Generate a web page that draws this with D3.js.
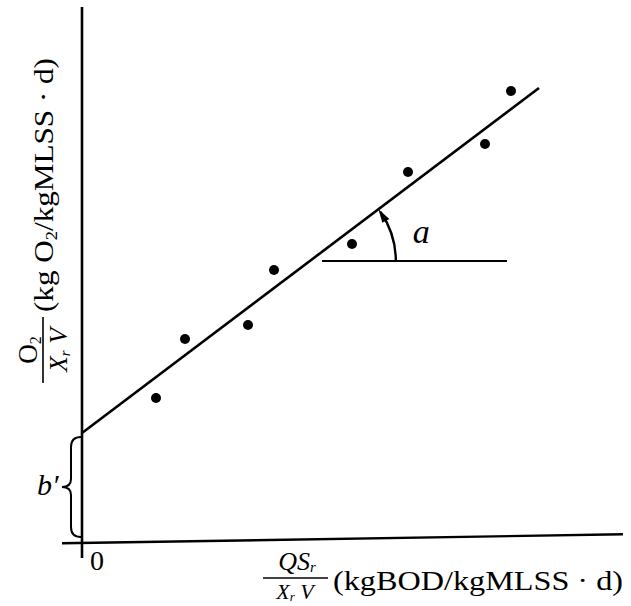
<!DOCTYPE html>
<html>
<head>
<meta charset="utf-8">
<script src="https://cdn.jsdelivr.net/npm/d3@7"></script>
<style>
  html, body { margin: 0; padding: 0; background: #fff; }
  #canvas { width: 631px; height: 606px; }
  text { font-family: "Liberation Serif", "Times New Roman", "DejaVu Serif", serif; fill: #000; }
</style>
</head>
<body>
<div id="canvas" class="canvas"></div>
<script>
// data (arbitrary units, origin at axis crossing)
var ptX = [1.48, 2.06, 3.32, 3.84, 5.40, 6.52, 8.06, 8.58];
var ptY = [2.90, 4.08, 4.36, 5.46, 5.98, 7.42, 7.98, 9.04];
var fitX = [0, 9.14];
var fitY = [2.2, 9.1];          // intercept b' = 2.2
var refY = 5.64;                // horizontal reference line for angle a
var refX = [4.8, 8.5];

var W = 631, H = 606;

var svg = d3.select('.canvas')
    .append('svg')
    .attr('width', W)
    .attr('height', H);

var x = d3.scaleLinear().domain([0, 10]).range([82, 582]);
var y = d3.scaleLinear().domain([0, 10]).range([543, 43]);

// x axis (scan is tilted a touch)
svg.append('line')
    .attr('x1', x(-0.4)).attr('y1', y(0))
    .attr('x2', x(10.82)).attr('y2', y(0))
    .attr('transform', 'rotate(-0.92,' + x(0) + ',' + y(0) + ')')
    .style('stroke', '#000').style('stroke-width', 2.4);

// y axis
svg.append('line')
    .attr('x1', x(0)).attr('y1', y(10.72))
    .attr('x2', x(0)).attr('y2', y(-0.3))
    .style('stroke', '#000').style('stroke-width', 2.6);

// fitted line
var line = d3.line().x(function(d){ return x(d[0]); }).y(function(d){ return y(d[1]); });
svg.append('path')
    .datum(fitX.map(function(v, i){ return [v, fitY[i]]; }))
    .attr('d', line)
    .style('fill', 'none').style('stroke', '#000').style('stroke-width', 2.6);

// points
svg.selectAll('.pt')
    .data(ptX.map(function(v, i){ return [v, ptY[i]]; }))
    .enter().append('circle').attr('class', 'pt')
    .attr('cx', function(d){ return x(d[0]); })
    .attr('cy', function(d){ return y(d[1]); })
    .attr('r', 5)
    .style('fill', '#000');

// reference horizontal line
svg.append('line')
    .attr('x1', x(refX[0])).attr('y1', y(refY))
    .attr('x2', x(refX[1])).attr('y2', y(refY))
    .style('stroke', '#000').style('stroke-width', 2.2);

// angle arc a
var slope = (fitY[1] - fitY[0]) / (fitX[1] - fitX[0]);
var cx0 = x((refY - fitY[0]) / slope), cy0 = y(refY);
var ang = Math.atan(slope * (y(0) - y(1)) / (x(1) - x(0)));
var R = 86;
var arc = d3.arc()({innerRadius: R, outerRadius: R, startAngle: Math.PI / 2 - ang + 0.04, endAngle: Math.PI / 2});
svg.append('path')
    .attr('d', arc)
    .attr('transform', 'translate(' + cx0 + ',' + cy0 + ')')
    .style('fill', 'none').style('stroke', '#000').style('stroke-width', 2.4);
// arrow head at the top of the arc, pointing to the fitted line
var tipA = -ang, baseA = -ang + 0.16;
var tip = [cx0 + R * Math.cos(tipA), cy0 + R * Math.sin(tipA)];
var b1 = [cx0 + (R - 4) * Math.cos(baseA), cy0 + (R - 4) * Math.sin(baseA)];
var b2 = [cx0 + (R + 4) * Math.cos(baseA), cy0 + (R + 4) * Math.sin(baseA)];
svg.append('path')
    .attr('d', 'M' + tip + 'L' + b1 + 'L' + b2 + 'Z')
    .style('fill', '#000');

svg.append('text')
    .attr('x', cx0 + 103).attr('y', cy0 - 18)
    .style('font-size', '34px').style('font-style', 'italic')
    .text('a');

// brace for b'
var bt = y(fitY[0]) + 4, bb = y(0) - 6, bm = (bt + bb) / 2, bx = x(0);
svg.append('path')
    .attr('d', 'M' + (bx - 1) + ',' + bt +
        ' Q' + (bx - 11) + ',' + bt + ' ' + (bx - 11) + ',' + (bt + 10) +
        ' L' + (bx - 11) + ',' + (bm - 8) +
        ' Q' + (bx - 11) + ',' + bm + ' ' + (bx - 20) + ',' + bm +
        ' Q' + (bx - 11) + ',' + bm + ' ' + (bx - 11) + ',' + (bm + 8) +
        ' L' + (bx - 11) + ',' + (bb - 10) +
        ' Q' + (bx - 11) + ',' + bb + ' ' + (bx - 1) + ',' + bb)
    .style('fill', 'none').style('stroke', '#000').style('stroke-width', 2);

svg.append('text')
    .attr('x', 37).attr('y', 495)
    .style('font-size', '30px').style('font-style', 'italic')
    .text('b′');

// 0 label
svg.append('text')
    .attr('x', 97).attr('y', 570)
    .attr('text-anchor', 'middle')
    .style('font-size', '28px')
    .text('0');

// x label: fraction QSr / XrV + units
svg.append('line')
    .attr('x1', 263).attr('y1', 578).attr('x2', 328).attr('y2', 578)
    .style('stroke', '#000').style('stroke-width', 1.6);
var num = svg.append('text')
    .attr('x', 297).attr('y', 570).attr('text-anchor', 'middle')
    .style('font-size', '26px').style('font-style', 'italic');
num.append('tspan').text('QS');
num.append('tspan').attr('dy', 2).style('font-size', '15px').text('r');
var den = svg.append('text')
    .attr('x', 295).attr('y', 599).attr('text-anchor', 'middle')
    .style('font-size', '22px').style('font-style', 'italic');
den.append('tspan').text('X');
den.append('tspan').attr('dy', 2).style('font-size', '13px').text('r');
den.append('tspan').attr('dy', -2).text(' V');

svg.append('text')
    .attr('x', 333).attr('y', 590)
    .attr('textLength', 290).attr('lengthAdjust', 'spacingAndGlyphs')
    .style('font-size', '27px')
    .text('(kgBOD/kgMLSS · d)');

// y label: fraction O2 / XrV + units, rotated
svg.append('line')
    .attr('x1', 43).attr('y1', 317).attr('x2', 43).attr('y2', 383)
    .style('stroke', '#000').style('stroke-width', 1.6);
var ynum = svg.append('text')
    .attr('transform', 'translate(37,350) rotate(-90)')
    .attr('text-anchor', 'middle')
    .style('font-size', '27px');
ynum.append('tspan').text('O');
ynum.append('tspan').attr('dy', 4).style('font-size', '16px').text('2');
var yden = svg.append('text')
    .attr('transform', 'translate(67,350) rotate(-90)')
    .attr('text-anchor', 'middle')
    .style('font-size', '26px').style('font-style', 'italic');
yden.append('tspan').text('X');
yden.append('tspan').attr('dy', 3).style('font-size', '15px').text('r');
yden.append('tspan').attr('dy', -3).text(' V');

var ylab = svg.append('text')
    .attr('transform', 'translate(53,312) rotate(-90)')
    .attr('textLength', 254).attr('lengthAdjust', 'spacingAndGlyphs')
    .style('font-size', '27px');
ylab.append('tspan').text('(kg O');
ylab.append('tspan').attr('dy', 4).style('font-size', '16px').text('2');
ylab.append('tspan').attr('dy', -4).text('/kgMLSS · d)');
</script>
</body>
</html>
